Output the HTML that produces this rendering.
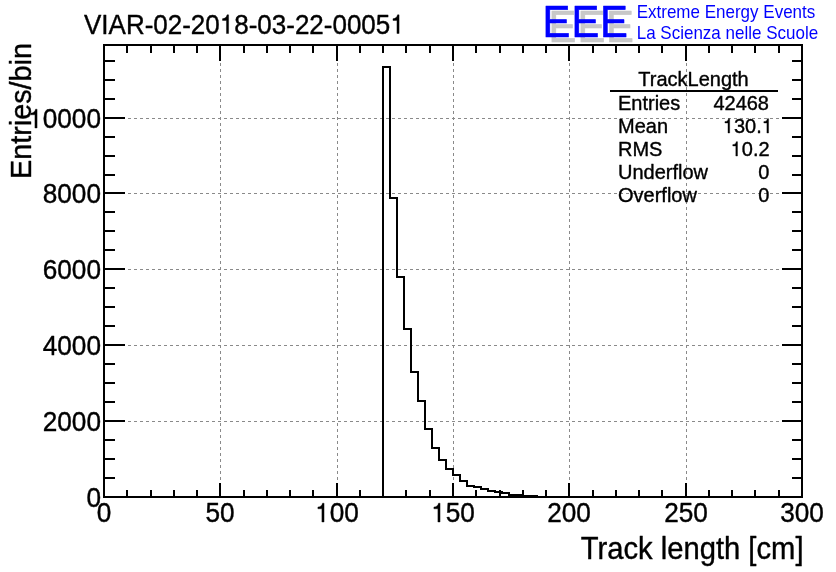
<!DOCTYPE html>
<html><head><meta charset="utf-8"><style>
html,body{margin:0;padding:0;background:#fff;width:836px;height:572px;overflow:hidden}
svg{display:block}
body{position:relative}
text{font-family:"Liberation Sans",sans-serif}
.tx text,.tx path{stroke-width:0.4px;stroke-linejoin:round}
</style></head><body>
<svg width="836" height="572" viewBox="0 0 836 572">
<rect width="836" height="572" fill="#fff"/>
<g shape-rendering="crispEdges">
<rect x="104" y="421" width="3" height="1" fill="#8a8a8a"/><rect x="110" y="421" width="3" height="1" fill="#8a8a8a"/><rect x="116" y="421" width="3" height="1" fill="#8a8a8a"/><rect x="122" y="421" width="3" height="1" fill="#8a8a8a"/><rect x="128" y="421" width="3" height="1" fill="#8a8a8a"/><rect x="134" y="421" width="3" height="1" fill="#8a8a8a"/><rect x="140" y="421" width="3" height="1" fill="#8a8a8a"/><rect x="146" y="421" width="3" height="1" fill="#8a8a8a"/><rect x="152" y="421" width="3" height="1" fill="#8a8a8a"/><rect x="158" y="421" width="3" height="1" fill="#8a8a8a"/><rect x="164" y="421" width="3" height="1" fill="#8a8a8a"/><rect x="170" y="421" width="3" height="1" fill="#8a8a8a"/><rect x="176" y="421" width="3" height="1" fill="#8a8a8a"/><rect x="182" y="421" width="3" height="1" fill="#8a8a8a"/><rect x="188" y="421" width="3" height="1" fill="#8a8a8a"/><rect x="194" y="421" width="3" height="1" fill="#8a8a8a"/><rect x="200" y="421" width="3" height="1" fill="#8a8a8a"/><rect x="206" y="421" width="3" height="1" fill="#8a8a8a"/><rect x="212" y="421" width="3" height="1" fill="#8a8a8a"/><rect x="218" y="421" width="3" height="1" fill="#8a8a8a"/><rect x="224" y="421" width="3" height="1" fill="#8a8a8a"/><rect x="230" y="421" width="3" height="1" fill="#8a8a8a"/><rect x="236" y="421" width="3" height="1" fill="#8a8a8a"/><rect x="242" y="421" width="3" height="1" fill="#8a8a8a"/><rect x="248" y="421" width="3" height="1" fill="#8a8a8a"/><rect x="254" y="421" width="3" height="1" fill="#8a8a8a"/><rect x="260" y="421" width="3" height="1" fill="#8a8a8a"/><rect x="266" y="421" width="3" height="1" fill="#8a8a8a"/><rect x="272" y="421" width="3" height="1" fill="#8a8a8a"/><rect x="278" y="421" width="3" height="1" fill="#8a8a8a"/><rect x="284" y="421" width="3" height="1" fill="#8a8a8a"/><rect x="290" y="421" width="3" height="1" fill="#8a8a8a"/><rect x="296" y="421" width="3" height="1" fill="#8a8a8a"/><rect x="302" y="421" width="3" height="1" fill="#8a8a8a"/><rect x="308" y="421" width="3" height="1" fill="#8a8a8a"/><rect x="314" y="421" width="3" height="1" fill="#8a8a8a"/><rect x="320" y="421" width="3" height="1" fill="#8a8a8a"/><rect x="326" y="421" width="3" height="1" fill="#8a8a8a"/><rect x="332" y="421" width="3" height="1" fill="#8a8a8a"/><rect x="338" y="421" width="3" height="1" fill="#8a8a8a"/><rect x="344" y="421" width="3" height="1" fill="#8a8a8a"/><rect x="350" y="421" width="3" height="1" fill="#8a8a8a"/><rect x="356" y="421" width="3" height="1" fill="#8a8a8a"/><rect x="362" y="421" width="3" height="1" fill="#8a8a8a"/><rect x="368" y="421" width="3" height="1" fill="#8a8a8a"/><rect x="374" y="421" width="3" height="1" fill="#8a8a8a"/><rect x="380" y="421" width="3" height="1" fill="#8a8a8a"/><rect x="386" y="421" width="3" height="1" fill="#8a8a8a"/><rect x="392" y="421" width="3" height="1" fill="#8a8a8a"/><rect x="398" y="421" width="3" height="1" fill="#8a8a8a"/><rect x="404" y="421" width="3" height="1" fill="#8a8a8a"/><rect x="410" y="421" width="3" height="1" fill="#8a8a8a"/><rect x="416" y="421" width="3" height="1" fill="#8a8a8a"/><rect x="422" y="421" width="3" height="1" fill="#8a8a8a"/><rect x="428" y="421" width="3" height="1" fill="#8a8a8a"/><rect x="434" y="421" width="3" height="1" fill="#8a8a8a"/><rect x="440" y="421" width="3" height="1" fill="#8a8a8a"/><rect x="446" y="421" width="3" height="1" fill="#8a8a8a"/><rect x="452" y="421" width="3" height="1" fill="#8a8a8a"/><rect x="458" y="421" width="3" height="1" fill="#8a8a8a"/><rect x="464" y="421" width="3" height="1" fill="#8a8a8a"/><rect x="470" y="421" width="3" height="1" fill="#8a8a8a"/><rect x="476" y="421" width="3" height="1" fill="#8a8a8a"/><rect x="482" y="421" width="3" height="1" fill="#8a8a8a"/><rect x="488" y="421" width="3" height="1" fill="#8a8a8a"/><rect x="494" y="421" width="3" height="1" fill="#8a8a8a"/><rect x="500" y="421" width="3" height="1" fill="#8a8a8a"/><rect x="506" y="421" width="3" height="1" fill="#8a8a8a"/><rect x="512" y="421" width="3" height="1" fill="#8a8a8a"/><rect x="518" y="421" width="3" height="1" fill="#8a8a8a"/><rect x="524" y="421" width="3" height="1" fill="#8a8a8a"/><rect x="530" y="421" width="3" height="1" fill="#8a8a8a"/><rect x="536" y="421" width="3" height="1" fill="#8a8a8a"/><rect x="542" y="421" width="3" height="1" fill="#8a8a8a"/><rect x="548" y="421" width="3" height="1" fill="#8a8a8a"/><rect x="554" y="421" width="3" height="1" fill="#8a8a8a"/><rect x="560" y="421" width="3" height="1" fill="#8a8a8a"/><rect x="566" y="421" width="3" height="1" fill="#8a8a8a"/><rect x="572" y="421" width="3" height="1" fill="#8a8a8a"/><rect x="578" y="421" width="3" height="1" fill="#8a8a8a"/><rect x="584" y="421" width="3" height="1" fill="#8a8a8a"/><rect x="590" y="421" width="3" height="1" fill="#8a8a8a"/><rect x="596" y="421" width="3" height="1" fill="#8a8a8a"/><rect x="602" y="421" width="3" height="1" fill="#8a8a8a"/><rect x="608" y="421" width="3" height="1" fill="#8a8a8a"/><rect x="614" y="421" width="3" height="1" fill="#8a8a8a"/><rect x="620" y="421" width="3" height="1" fill="#8a8a8a"/><rect x="626" y="421" width="3" height="1" fill="#8a8a8a"/><rect x="632" y="421" width="3" height="1" fill="#8a8a8a"/><rect x="638" y="421" width="3" height="1" fill="#8a8a8a"/><rect x="644" y="421" width="3" height="1" fill="#8a8a8a"/><rect x="650" y="421" width="3" height="1" fill="#8a8a8a"/><rect x="656" y="421" width="3" height="1" fill="#8a8a8a"/><rect x="662" y="421" width="3" height="1" fill="#8a8a8a"/><rect x="668" y="421" width="3" height="1" fill="#8a8a8a"/><rect x="674" y="421" width="3" height="1" fill="#8a8a8a"/><rect x="680" y="421" width="3" height="1" fill="#8a8a8a"/><rect x="686" y="421" width="3" height="1" fill="#8a8a8a"/><rect x="692" y="421" width="3" height="1" fill="#8a8a8a"/><rect x="698" y="421" width="3" height="1" fill="#8a8a8a"/><rect x="704" y="421" width="3" height="1" fill="#8a8a8a"/><rect x="710" y="421" width="3" height="1" fill="#8a8a8a"/><rect x="716" y="421" width="3" height="1" fill="#8a8a8a"/><rect x="722" y="421" width="3" height="1" fill="#8a8a8a"/><rect x="728" y="421" width="3" height="1" fill="#8a8a8a"/><rect x="734" y="421" width="3" height="1" fill="#8a8a8a"/><rect x="740" y="421" width="3" height="1" fill="#8a8a8a"/><rect x="746" y="421" width="3" height="1" fill="#8a8a8a"/><rect x="752" y="421" width="3" height="1" fill="#8a8a8a"/><rect x="758" y="421" width="3" height="1" fill="#8a8a8a"/><rect x="764" y="421" width="3" height="1" fill="#8a8a8a"/><rect x="770" y="421" width="3" height="1" fill="#8a8a8a"/><rect x="776" y="421" width="3" height="1" fill="#8a8a8a"/><rect x="782" y="421" width="3" height="1" fill="#8a8a8a"/><rect x="788" y="421" width="3" height="1" fill="#8a8a8a"/><rect x="794" y="421" width="3" height="1" fill="#8a8a8a"/><rect x="800" y="421" width="2" height="1" fill="#8a8a8a"/><rect x="104" y="345" width="3" height="1" fill="#8a8a8a"/><rect x="110" y="345" width="3" height="1" fill="#8a8a8a"/><rect x="116" y="345" width="3" height="1" fill="#8a8a8a"/><rect x="122" y="345" width="3" height="1" fill="#8a8a8a"/><rect x="128" y="345" width="3" height="1" fill="#8a8a8a"/><rect x="134" y="345" width="3" height="1" fill="#8a8a8a"/><rect x="140" y="345" width="3" height="1" fill="#8a8a8a"/><rect x="146" y="345" width="3" height="1" fill="#8a8a8a"/><rect x="152" y="345" width="3" height="1" fill="#8a8a8a"/><rect x="158" y="345" width="3" height="1" fill="#8a8a8a"/><rect x="164" y="345" width="3" height="1" fill="#8a8a8a"/><rect x="170" y="345" width="3" height="1" fill="#8a8a8a"/><rect x="176" y="345" width="3" height="1" fill="#8a8a8a"/><rect x="182" y="345" width="3" height="1" fill="#8a8a8a"/><rect x="188" y="345" width="3" height="1" fill="#8a8a8a"/><rect x="194" y="345" width="3" height="1" fill="#8a8a8a"/><rect x="200" y="345" width="3" height="1" fill="#8a8a8a"/><rect x="206" y="345" width="3" height="1" fill="#8a8a8a"/><rect x="212" y="345" width="3" height="1" fill="#8a8a8a"/><rect x="218" y="345" width="3" height="1" fill="#8a8a8a"/><rect x="224" y="345" width="3" height="1" fill="#8a8a8a"/><rect x="230" y="345" width="3" height="1" fill="#8a8a8a"/><rect x="236" y="345" width="3" height="1" fill="#8a8a8a"/><rect x="242" y="345" width="3" height="1" fill="#8a8a8a"/><rect x="248" y="345" width="3" height="1" fill="#8a8a8a"/><rect x="254" y="345" width="3" height="1" fill="#8a8a8a"/><rect x="260" y="345" width="3" height="1" fill="#8a8a8a"/><rect x="266" y="345" width="3" height="1" fill="#8a8a8a"/><rect x="272" y="345" width="3" height="1" fill="#8a8a8a"/><rect x="278" y="345" width="3" height="1" fill="#8a8a8a"/><rect x="284" y="345" width="3" height="1" fill="#8a8a8a"/><rect x="290" y="345" width="3" height="1" fill="#8a8a8a"/><rect x="296" y="345" width="3" height="1" fill="#8a8a8a"/><rect x="302" y="345" width="3" height="1" fill="#8a8a8a"/><rect x="308" y="345" width="3" height="1" fill="#8a8a8a"/><rect x="314" y="345" width="3" height="1" fill="#8a8a8a"/><rect x="320" y="345" width="3" height="1" fill="#8a8a8a"/><rect x="326" y="345" width="3" height="1" fill="#8a8a8a"/><rect x="332" y="345" width="3" height="1" fill="#8a8a8a"/><rect x="338" y="345" width="3" height="1" fill="#8a8a8a"/><rect x="344" y="345" width="3" height="1" fill="#8a8a8a"/><rect x="350" y="345" width="3" height="1" fill="#8a8a8a"/><rect x="356" y="345" width="3" height="1" fill="#8a8a8a"/><rect x="362" y="345" width="3" height="1" fill="#8a8a8a"/><rect x="368" y="345" width="3" height="1" fill="#8a8a8a"/><rect x="374" y="345" width="3" height="1" fill="#8a8a8a"/><rect x="380" y="345" width="3" height="1" fill="#8a8a8a"/><rect x="386" y="345" width="3" height="1" fill="#8a8a8a"/><rect x="392" y="345" width="3" height="1" fill="#8a8a8a"/><rect x="398" y="345" width="3" height="1" fill="#8a8a8a"/><rect x="404" y="345" width="3" height="1" fill="#8a8a8a"/><rect x="410" y="345" width="3" height="1" fill="#8a8a8a"/><rect x="416" y="345" width="3" height="1" fill="#8a8a8a"/><rect x="422" y="345" width="3" height="1" fill="#8a8a8a"/><rect x="428" y="345" width="3" height="1" fill="#8a8a8a"/><rect x="434" y="345" width="3" height="1" fill="#8a8a8a"/><rect x="440" y="345" width="3" height="1" fill="#8a8a8a"/><rect x="446" y="345" width="3" height="1" fill="#8a8a8a"/><rect x="452" y="345" width="3" height="1" fill="#8a8a8a"/><rect x="458" y="345" width="3" height="1" fill="#8a8a8a"/><rect x="464" y="345" width="3" height="1" fill="#8a8a8a"/><rect x="470" y="345" width="3" height="1" fill="#8a8a8a"/><rect x="476" y="345" width="3" height="1" fill="#8a8a8a"/><rect x="482" y="345" width="3" height="1" fill="#8a8a8a"/><rect x="488" y="345" width="3" height="1" fill="#8a8a8a"/><rect x="494" y="345" width="3" height="1" fill="#8a8a8a"/><rect x="500" y="345" width="3" height="1" fill="#8a8a8a"/><rect x="506" y="345" width="3" height="1" fill="#8a8a8a"/><rect x="512" y="345" width="3" height="1" fill="#8a8a8a"/><rect x="518" y="345" width="3" height="1" fill="#8a8a8a"/><rect x="524" y="345" width="3" height="1" fill="#8a8a8a"/><rect x="530" y="345" width="3" height="1" fill="#8a8a8a"/><rect x="536" y="345" width="3" height="1" fill="#8a8a8a"/><rect x="542" y="345" width="3" height="1" fill="#8a8a8a"/><rect x="548" y="345" width="3" height="1" fill="#8a8a8a"/><rect x="554" y="345" width="3" height="1" fill="#8a8a8a"/><rect x="560" y="345" width="3" height="1" fill="#8a8a8a"/><rect x="566" y="345" width="3" height="1" fill="#8a8a8a"/><rect x="572" y="345" width="3" height="1" fill="#8a8a8a"/><rect x="578" y="345" width="3" height="1" fill="#8a8a8a"/><rect x="584" y="345" width="3" height="1" fill="#8a8a8a"/><rect x="590" y="345" width="3" height="1" fill="#8a8a8a"/><rect x="596" y="345" width="3" height="1" fill="#8a8a8a"/><rect x="602" y="345" width="3" height="1" fill="#8a8a8a"/><rect x="608" y="345" width="3" height="1" fill="#8a8a8a"/><rect x="614" y="345" width="3" height="1" fill="#8a8a8a"/><rect x="620" y="345" width="3" height="1" fill="#8a8a8a"/><rect x="626" y="345" width="3" height="1" fill="#8a8a8a"/><rect x="632" y="345" width="3" height="1" fill="#8a8a8a"/><rect x="638" y="345" width="3" height="1" fill="#8a8a8a"/><rect x="644" y="345" width="3" height="1" fill="#8a8a8a"/><rect x="650" y="345" width="3" height="1" fill="#8a8a8a"/><rect x="656" y="345" width="3" height="1" fill="#8a8a8a"/><rect x="662" y="345" width="3" height="1" fill="#8a8a8a"/><rect x="668" y="345" width="3" height="1" fill="#8a8a8a"/><rect x="674" y="345" width="3" height="1" fill="#8a8a8a"/><rect x="680" y="345" width="3" height="1" fill="#8a8a8a"/><rect x="686" y="345" width="3" height="1" fill="#8a8a8a"/><rect x="692" y="345" width="3" height="1" fill="#8a8a8a"/><rect x="698" y="345" width="3" height="1" fill="#8a8a8a"/><rect x="704" y="345" width="3" height="1" fill="#8a8a8a"/><rect x="710" y="345" width="3" height="1" fill="#8a8a8a"/><rect x="716" y="345" width="3" height="1" fill="#8a8a8a"/><rect x="722" y="345" width="3" height="1" fill="#8a8a8a"/><rect x="728" y="345" width="3" height="1" fill="#8a8a8a"/><rect x="734" y="345" width="3" height="1" fill="#8a8a8a"/><rect x="740" y="345" width="3" height="1" fill="#8a8a8a"/><rect x="746" y="345" width="3" height="1" fill="#8a8a8a"/><rect x="752" y="345" width="3" height="1" fill="#8a8a8a"/><rect x="758" y="345" width="3" height="1" fill="#8a8a8a"/><rect x="764" y="345" width="3" height="1" fill="#8a8a8a"/><rect x="770" y="345" width="3" height="1" fill="#8a8a8a"/><rect x="776" y="345" width="3" height="1" fill="#8a8a8a"/><rect x="782" y="345" width="3" height="1" fill="#8a8a8a"/><rect x="788" y="345" width="3" height="1" fill="#8a8a8a"/><rect x="794" y="345" width="3" height="1" fill="#8a8a8a"/><rect x="800" y="345" width="2" height="1" fill="#8a8a8a"/><rect x="104" y="269" width="3" height="1" fill="#8a8a8a"/><rect x="110" y="269" width="3" height="1" fill="#8a8a8a"/><rect x="116" y="269" width="3" height="1" fill="#8a8a8a"/><rect x="122" y="269" width="3" height="1" fill="#8a8a8a"/><rect x="128" y="269" width="3" height="1" fill="#8a8a8a"/><rect x="134" y="269" width="3" height="1" fill="#8a8a8a"/><rect x="140" y="269" width="3" height="1" fill="#8a8a8a"/><rect x="146" y="269" width="3" height="1" fill="#8a8a8a"/><rect x="152" y="269" width="3" height="1" fill="#8a8a8a"/><rect x="158" y="269" width="3" height="1" fill="#8a8a8a"/><rect x="164" y="269" width="3" height="1" fill="#8a8a8a"/><rect x="170" y="269" width="3" height="1" fill="#8a8a8a"/><rect x="176" y="269" width="3" height="1" fill="#8a8a8a"/><rect x="182" y="269" width="3" height="1" fill="#8a8a8a"/><rect x="188" y="269" width="3" height="1" fill="#8a8a8a"/><rect x="194" y="269" width="3" height="1" fill="#8a8a8a"/><rect x="200" y="269" width="3" height="1" fill="#8a8a8a"/><rect x="206" y="269" width="3" height="1" fill="#8a8a8a"/><rect x="212" y="269" width="3" height="1" fill="#8a8a8a"/><rect x="218" y="269" width="3" height="1" fill="#8a8a8a"/><rect x="224" y="269" width="3" height="1" fill="#8a8a8a"/><rect x="230" y="269" width="3" height="1" fill="#8a8a8a"/><rect x="236" y="269" width="3" height="1" fill="#8a8a8a"/><rect x="242" y="269" width="3" height="1" fill="#8a8a8a"/><rect x="248" y="269" width="3" height="1" fill="#8a8a8a"/><rect x="254" y="269" width="3" height="1" fill="#8a8a8a"/><rect x="260" y="269" width="3" height="1" fill="#8a8a8a"/><rect x="266" y="269" width="3" height="1" fill="#8a8a8a"/><rect x="272" y="269" width="3" height="1" fill="#8a8a8a"/><rect x="278" y="269" width="3" height="1" fill="#8a8a8a"/><rect x="284" y="269" width="3" height="1" fill="#8a8a8a"/><rect x="290" y="269" width="3" height="1" fill="#8a8a8a"/><rect x="296" y="269" width="3" height="1" fill="#8a8a8a"/><rect x="302" y="269" width="3" height="1" fill="#8a8a8a"/><rect x="308" y="269" width="3" height="1" fill="#8a8a8a"/><rect x="314" y="269" width="3" height="1" fill="#8a8a8a"/><rect x="320" y="269" width="3" height="1" fill="#8a8a8a"/><rect x="326" y="269" width="3" height="1" fill="#8a8a8a"/><rect x="332" y="269" width="3" height="1" fill="#8a8a8a"/><rect x="338" y="269" width="3" height="1" fill="#8a8a8a"/><rect x="344" y="269" width="3" height="1" fill="#8a8a8a"/><rect x="350" y="269" width="3" height="1" fill="#8a8a8a"/><rect x="356" y="269" width="3" height="1" fill="#8a8a8a"/><rect x="362" y="269" width="3" height="1" fill="#8a8a8a"/><rect x="368" y="269" width="3" height="1" fill="#8a8a8a"/><rect x="374" y="269" width="3" height="1" fill="#8a8a8a"/><rect x="380" y="269" width="3" height="1" fill="#8a8a8a"/><rect x="386" y="269" width="3" height="1" fill="#8a8a8a"/><rect x="392" y="269" width="3" height="1" fill="#8a8a8a"/><rect x="398" y="269" width="3" height="1" fill="#8a8a8a"/><rect x="404" y="269" width="3" height="1" fill="#8a8a8a"/><rect x="410" y="269" width="3" height="1" fill="#8a8a8a"/><rect x="416" y="269" width="3" height="1" fill="#8a8a8a"/><rect x="422" y="269" width="3" height="1" fill="#8a8a8a"/><rect x="428" y="269" width="3" height="1" fill="#8a8a8a"/><rect x="434" y="269" width="3" height="1" fill="#8a8a8a"/><rect x="440" y="269" width="3" height="1" fill="#8a8a8a"/><rect x="446" y="269" width="3" height="1" fill="#8a8a8a"/><rect x="452" y="269" width="3" height="1" fill="#8a8a8a"/><rect x="458" y="269" width="3" height="1" fill="#8a8a8a"/><rect x="464" y="269" width="3" height="1" fill="#8a8a8a"/><rect x="470" y="269" width="3" height="1" fill="#8a8a8a"/><rect x="476" y="269" width="3" height="1" fill="#8a8a8a"/><rect x="482" y="269" width="3" height="1" fill="#8a8a8a"/><rect x="488" y="269" width="3" height="1" fill="#8a8a8a"/><rect x="494" y="269" width="3" height="1" fill="#8a8a8a"/><rect x="500" y="269" width="3" height="1" fill="#8a8a8a"/><rect x="506" y="269" width="3" height="1" fill="#8a8a8a"/><rect x="512" y="269" width="3" height="1" fill="#8a8a8a"/><rect x="518" y="269" width="3" height="1" fill="#8a8a8a"/><rect x="524" y="269" width="3" height="1" fill="#8a8a8a"/><rect x="530" y="269" width="3" height="1" fill="#8a8a8a"/><rect x="536" y="269" width="3" height="1" fill="#8a8a8a"/><rect x="542" y="269" width="3" height="1" fill="#8a8a8a"/><rect x="548" y="269" width="3" height="1" fill="#8a8a8a"/><rect x="554" y="269" width="3" height="1" fill="#8a8a8a"/><rect x="560" y="269" width="3" height="1" fill="#8a8a8a"/><rect x="566" y="269" width="3" height="1" fill="#8a8a8a"/><rect x="572" y="269" width="3" height="1" fill="#8a8a8a"/><rect x="578" y="269" width="3" height="1" fill="#8a8a8a"/><rect x="584" y="269" width="3" height="1" fill="#8a8a8a"/><rect x="590" y="269" width="3" height="1" fill="#8a8a8a"/><rect x="596" y="269" width="3" height="1" fill="#8a8a8a"/><rect x="602" y="269" width="3" height="1" fill="#8a8a8a"/><rect x="608" y="269" width="3" height="1" fill="#8a8a8a"/><rect x="614" y="269" width="3" height="1" fill="#8a8a8a"/><rect x="620" y="269" width="3" height="1" fill="#8a8a8a"/><rect x="626" y="269" width="3" height="1" fill="#8a8a8a"/><rect x="632" y="269" width="3" height="1" fill="#8a8a8a"/><rect x="638" y="269" width="3" height="1" fill="#8a8a8a"/><rect x="644" y="269" width="3" height="1" fill="#8a8a8a"/><rect x="650" y="269" width="3" height="1" fill="#8a8a8a"/><rect x="656" y="269" width="3" height="1" fill="#8a8a8a"/><rect x="662" y="269" width="3" height="1" fill="#8a8a8a"/><rect x="668" y="269" width="3" height="1" fill="#8a8a8a"/><rect x="674" y="269" width="3" height="1" fill="#8a8a8a"/><rect x="680" y="269" width="3" height="1" fill="#8a8a8a"/><rect x="686" y="269" width="3" height="1" fill="#8a8a8a"/><rect x="692" y="269" width="3" height="1" fill="#8a8a8a"/><rect x="698" y="269" width="3" height="1" fill="#8a8a8a"/><rect x="704" y="269" width="3" height="1" fill="#8a8a8a"/><rect x="710" y="269" width="3" height="1" fill="#8a8a8a"/><rect x="716" y="269" width="3" height="1" fill="#8a8a8a"/><rect x="722" y="269" width="3" height="1" fill="#8a8a8a"/><rect x="728" y="269" width="3" height="1" fill="#8a8a8a"/><rect x="734" y="269" width="3" height="1" fill="#8a8a8a"/><rect x="740" y="269" width="3" height="1" fill="#8a8a8a"/><rect x="746" y="269" width="3" height="1" fill="#8a8a8a"/><rect x="752" y="269" width="3" height="1" fill="#8a8a8a"/><rect x="758" y="269" width="3" height="1" fill="#8a8a8a"/><rect x="764" y="269" width="3" height="1" fill="#8a8a8a"/><rect x="770" y="269" width="3" height="1" fill="#8a8a8a"/><rect x="776" y="269" width="3" height="1" fill="#8a8a8a"/><rect x="782" y="269" width="3" height="1" fill="#8a8a8a"/><rect x="788" y="269" width="3" height="1" fill="#8a8a8a"/><rect x="794" y="269" width="3" height="1" fill="#8a8a8a"/><rect x="800" y="269" width="2" height="1" fill="#8a8a8a"/><rect x="104" y="193" width="3" height="1" fill="#8a8a8a"/><rect x="110" y="193" width="3" height="1" fill="#8a8a8a"/><rect x="116" y="193" width="3" height="1" fill="#8a8a8a"/><rect x="122" y="193" width="3" height="1" fill="#8a8a8a"/><rect x="128" y="193" width="3" height="1" fill="#8a8a8a"/><rect x="134" y="193" width="3" height="1" fill="#8a8a8a"/><rect x="140" y="193" width="3" height="1" fill="#8a8a8a"/><rect x="146" y="193" width="3" height="1" fill="#8a8a8a"/><rect x="152" y="193" width="3" height="1" fill="#8a8a8a"/><rect x="158" y="193" width="3" height="1" fill="#8a8a8a"/><rect x="164" y="193" width="3" height="1" fill="#8a8a8a"/><rect x="170" y="193" width="3" height="1" fill="#8a8a8a"/><rect x="176" y="193" width="3" height="1" fill="#8a8a8a"/><rect x="182" y="193" width="3" height="1" fill="#8a8a8a"/><rect x="188" y="193" width="3" height="1" fill="#8a8a8a"/><rect x="194" y="193" width="3" height="1" fill="#8a8a8a"/><rect x="200" y="193" width="3" height="1" fill="#8a8a8a"/><rect x="206" y="193" width="3" height="1" fill="#8a8a8a"/><rect x="212" y="193" width="3" height="1" fill="#8a8a8a"/><rect x="218" y="193" width="3" height="1" fill="#8a8a8a"/><rect x="224" y="193" width="3" height="1" fill="#8a8a8a"/><rect x="230" y="193" width="3" height="1" fill="#8a8a8a"/><rect x="236" y="193" width="3" height="1" fill="#8a8a8a"/><rect x="242" y="193" width="3" height="1" fill="#8a8a8a"/><rect x="248" y="193" width="3" height="1" fill="#8a8a8a"/><rect x="254" y="193" width="3" height="1" fill="#8a8a8a"/><rect x="260" y="193" width="3" height="1" fill="#8a8a8a"/><rect x="266" y="193" width="3" height="1" fill="#8a8a8a"/><rect x="272" y="193" width="3" height="1" fill="#8a8a8a"/><rect x="278" y="193" width="3" height="1" fill="#8a8a8a"/><rect x="284" y="193" width="3" height="1" fill="#8a8a8a"/><rect x="290" y="193" width="3" height="1" fill="#8a8a8a"/><rect x="296" y="193" width="3" height="1" fill="#8a8a8a"/><rect x="302" y="193" width="3" height="1" fill="#8a8a8a"/><rect x="308" y="193" width="3" height="1" fill="#8a8a8a"/><rect x="314" y="193" width="3" height="1" fill="#8a8a8a"/><rect x="320" y="193" width="3" height="1" fill="#8a8a8a"/><rect x="326" y="193" width="3" height="1" fill="#8a8a8a"/><rect x="332" y="193" width="3" height="1" fill="#8a8a8a"/><rect x="338" y="193" width="3" height="1" fill="#8a8a8a"/><rect x="344" y="193" width="3" height="1" fill="#8a8a8a"/><rect x="350" y="193" width="3" height="1" fill="#8a8a8a"/><rect x="356" y="193" width="3" height="1" fill="#8a8a8a"/><rect x="362" y="193" width="3" height="1" fill="#8a8a8a"/><rect x="368" y="193" width="3" height="1" fill="#8a8a8a"/><rect x="374" y="193" width="3" height="1" fill="#8a8a8a"/><rect x="380" y="193" width="3" height="1" fill="#8a8a8a"/><rect x="386" y="193" width="3" height="1" fill="#8a8a8a"/><rect x="392" y="193" width="3" height="1" fill="#8a8a8a"/><rect x="398" y="193" width="3" height="1" fill="#8a8a8a"/><rect x="404" y="193" width="3" height="1" fill="#8a8a8a"/><rect x="410" y="193" width="3" height="1" fill="#8a8a8a"/><rect x="416" y="193" width="3" height="1" fill="#8a8a8a"/><rect x="422" y="193" width="3" height="1" fill="#8a8a8a"/><rect x="428" y="193" width="3" height="1" fill="#8a8a8a"/><rect x="434" y="193" width="3" height="1" fill="#8a8a8a"/><rect x="440" y="193" width="3" height="1" fill="#8a8a8a"/><rect x="446" y="193" width="3" height="1" fill="#8a8a8a"/><rect x="452" y="193" width="3" height="1" fill="#8a8a8a"/><rect x="458" y="193" width="3" height="1" fill="#8a8a8a"/><rect x="464" y="193" width="3" height="1" fill="#8a8a8a"/><rect x="470" y="193" width="3" height="1" fill="#8a8a8a"/><rect x="476" y="193" width="3" height="1" fill="#8a8a8a"/><rect x="482" y="193" width="3" height="1" fill="#8a8a8a"/><rect x="488" y="193" width="3" height="1" fill="#8a8a8a"/><rect x="494" y="193" width="3" height="1" fill="#8a8a8a"/><rect x="500" y="193" width="3" height="1" fill="#8a8a8a"/><rect x="506" y="193" width="3" height="1" fill="#8a8a8a"/><rect x="512" y="193" width="3" height="1" fill="#8a8a8a"/><rect x="518" y="193" width="3" height="1" fill="#8a8a8a"/><rect x="524" y="193" width="3" height="1" fill="#8a8a8a"/><rect x="530" y="193" width="3" height="1" fill="#8a8a8a"/><rect x="536" y="193" width="3" height="1" fill="#8a8a8a"/><rect x="542" y="193" width="3" height="1" fill="#8a8a8a"/><rect x="548" y="193" width="3" height="1" fill="#8a8a8a"/><rect x="554" y="193" width="3" height="1" fill="#8a8a8a"/><rect x="560" y="193" width="3" height="1" fill="#8a8a8a"/><rect x="566" y="193" width="3" height="1" fill="#8a8a8a"/><rect x="572" y="193" width="3" height="1" fill="#8a8a8a"/><rect x="578" y="193" width="3" height="1" fill="#8a8a8a"/><rect x="584" y="193" width="3" height="1" fill="#8a8a8a"/><rect x="590" y="193" width="3" height="1" fill="#8a8a8a"/><rect x="596" y="193" width="3" height="1" fill="#8a8a8a"/><rect x="602" y="193" width="3" height="1" fill="#8a8a8a"/><rect x="608" y="193" width="3" height="1" fill="#8a8a8a"/><rect x="614" y="193" width="3" height="1" fill="#8a8a8a"/><rect x="620" y="193" width="3" height="1" fill="#8a8a8a"/><rect x="626" y="193" width="3" height="1" fill="#8a8a8a"/><rect x="632" y="193" width="3" height="1" fill="#8a8a8a"/><rect x="638" y="193" width="3" height="1" fill="#8a8a8a"/><rect x="644" y="193" width="3" height="1" fill="#8a8a8a"/><rect x="650" y="193" width="3" height="1" fill="#8a8a8a"/><rect x="656" y="193" width="3" height="1" fill="#8a8a8a"/><rect x="662" y="193" width="3" height="1" fill="#8a8a8a"/><rect x="668" y="193" width="3" height="1" fill="#8a8a8a"/><rect x="674" y="193" width="3" height="1" fill="#8a8a8a"/><rect x="680" y="193" width="3" height="1" fill="#8a8a8a"/><rect x="686" y="193" width="3" height="1" fill="#8a8a8a"/><rect x="692" y="193" width="3" height="1" fill="#8a8a8a"/><rect x="698" y="193" width="3" height="1" fill="#8a8a8a"/><rect x="704" y="193" width="3" height="1" fill="#8a8a8a"/><rect x="710" y="193" width="3" height="1" fill="#8a8a8a"/><rect x="716" y="193" width="3" height="1" fill="#8a8a8a"/><rect x="722" y="193" width="3" height="1" fill="#8a8a8a"/><rect x="728" y="193" width="3" height="1" fill="#8a8a8a"/><rect x="734" y="193" width="3" height="1" fill="#8a8a8a"/><rect x="740" y="193" width="3" height="1" fill="#8a8a8a"/><rect x="746" y="193" width="3" height="1" fill="#8a8a8a"/><rect x="752" y="193" width="3" height="1" fill="#8a8a8a"/><rect x="758" y="193" width="3" height="1" fill="#8a8a8a"/><rect x="764" y="193" width="3" height="1" fill="#8a8a8a"/><rect x="770" y="193" width="3" height="1" fill="#8a8a8a"/><rect x="776" y="193" width="3" height="1" fill="#8a8a8a"/><rect x="782" y="193" width="3" height="1" fill="#8a8a8a"/><rect x="788" y="193" width="3" height="1" fill="#8a8a8a"/><rect x="794" y="193" width="3" height="1" fill="#8a8a8a"/><rect x="800" y="193" width="2" height="1" fill="#8a8a8a"/><rect x="104" y="118" width="3" height="1" fill="#8a8a8a"/><rect x="110" y="118" width="3" height="1" fill="#8a8a8a"/><rect x="116" y="118" width="3" height="1" fill="#8a8a8a"/><rect x="122" y="118" width="3" height="1" fill="#8a8a8a"/><rect x="128" y="118" width="3" height="1" fill="#8a8a8a"/><rect x="134" y="118" width="3" height="1" fill="#8a8a8a"/><rect x="140" y="118" width="3" height="1" fill="#8a8a8a"/><rect x="146" y="118" width="3" height="1" fill="#8a8a8a"/><rect x="152" y="118" width="3" height="1" fill="#8a8a8a"/><rect x="158" y="118" width="3" height="1" fill="#8a8a8a"/><rect x="164" y="118" width="3" height="1" fill="#8a8a8a"/><rect x="170" y="118" width="3" height="1" fill="#8a8a8a"/><rect x="176" y="118" width="3" height="1" fill="#8a8a8a"/><rect x="182" y="118" width="3" height="1" fill="#8a8a8a"/><rect x="188" y="118" width="3" height="1" fill="#8a8a8a"/><rect x="194" y="118" width="3" height="1" fill="#8a8a8a"/><rect x="200" y="118" width="3" height="1" fill="#8a8a8a"/><rect x="206" y="118" width="3" height="1" fill="#8a8a8a"/><rect x="212" y="118" width="3" height="1" fill="#8a8a8a"/><rect x="218" y="118" width="3" height="1" fill="#8a8a8a"/><rect x="224" y="118" width="3" height="1" fill="#8a8a8a"/><rect x="230" y="118" width="3" height="1" fill="#8a8a8a"/><rect x="236" y="118" width="3" height="1" fill="#8a8a8a"/><rect x="242" y="118" width="3" height="1" fill="#8a8a8a"/><rect x="248" y="118" width="3" height="1" fill="#8a8a8a"/><rect x="254" y="118" width="3" height="1" fill="#8a8a8a"/><rect x="260" y="118" width="3" height="1" fill="#8a8a8a"/><rect x="266" y="118" width="3" height="1" fill="#8a8a8a"/><rect x="272" y="118" width="3" height="1" fill="#8a8a8a"/><rect x="278" y="118" width="3" height="1" fill="#8a8a8a"/><rect x="284" y="118" width="3" height="1" fill="#8a8a8a"/><rect x="290" y="118" width="3" height="1" fill="#8a8a8a"/><rect x="296" y="118" width="3" height="1" fill="#8a8a8a"/><rect x="302" y="118" width="3" height="1" fill="#8a8a8a"/><rect x="308" y="118" width="3" height="1" fill="#8a8a8a"/><rect x="314" y="118" width="3" height="1" fill="#8a8a8a"/><rect x="320" y="118" width="3" height="1" fill="#8a8a8a"/><rect x="326" y="118" width="3" height="1" fill="#8a8a8a"/><rect x="332" y="118" width="3" height="1" fill="#8a8a8a"/><rect x="338" y="118" width="3" height="1" fill="#8a8a8a"/><rect x="344" y="118" width="3" height="1" fill="#8a8a8a"/><rect x="350" y="118" width="3" height="1" fill="#8a8a8a"/><rect x="356" y="118" width="3" height="1" fill="#8a8a8a"/><rect x="362" y="118" width="3" height="1" fill="#8a8a8a"/><rect x="368" y="118" width="3" height="1" fill="#8a8a8a"/><rect x="374" y="118" width="3" height="1" fill="#8a8a8a"/><rect x="380" y="118" width="3" height="1" fill="#8a8a8a"/><rect x="386" y="118" width="3" height="1" fill="#8a8a8a"/><rect x="392" y="118" width="3" height="1" fill="#8a8a8a"/><rect x="398" y="118" width="3" height="1" fill="#8a8a8a"/><rect x="404" y="118" width="3" height="1" fill="#8a8a8a"/><rect x="410" y="118" width="3" height="1" fill="#8a8a8a"/><rect x="416" y="118" width="3" height="1" fill="#8a8a8a"/><rect x="422" y="118" width="3" height="1" fill="#8a8a8a"/><rect x="428" y="118" width="3" height="1" fill="#8a8a8a"/><rect x="434" y="118" width="3" height="1" fill="#8a8a8a"/><rect x="440" y="118" width="3" height="1" fill="#8a8a8a"/><rect x="446" y="118" width="3" height="1" fill="#8a8a8a"/><rect x="452" y="118" width="3" height="1" fill="#8a8a8a"/><rect x="458" y="118" width="3" height="1" fill="#8a8a8a"/><rect x="464" y="118" width="3" height="1" fill="#8a8a8a"/><rect x="470" y="118" width="3" height="1" fill="#8a8a8a"/><rect x="476" y="118" width="3" height="1" fill="#8a8a8a"/><rect x="482" y="118" width="3" height="1" fill="#8a8a8a"/><rect x="488" y="118" width="3" height="1" fill="#8a8a8a"/><rect x="494" y="118" width="3" height="1" fill="#8a8a8a"/><rect x="500" y="118" width="3" height="1" fill="#8a8a8a"/><rect x="506" y="118" width="3" height="1" fill="#8a8a8a"/><rect x="512" y="118" width="3" height="1" fill="#8a8a8a"/><rect x="518" y="118" width="3" height="1" fill="#8a8a8a"/><rect x="524" y="118" width="3" height="1" fill="#8a8a8a"/><rect x="530" y="118" width="3" height="1" fill="#8a8a8a"/><rect x="536" y="118" width="3" height="1" fill="#8a8a8a"/><rect x="542" y="118" width="3" height="1" fill="#8a8a8a"/><rect x="548" y="118" width="3" height="1" fill="#8a8a8a"/><rect x="554" y="118" width="3" height="1" fill="#8a8a8a"/><rect x="560" y="118" width="3" height="1" fill="#8a8a8a"/><rect x="566" y="118" width="3" height="1" fill="#8a8a8a"/><rect x="572" y="118" width="3" height="1" fill="#8a8a8a"/><rect x="578" y="118" width="3" height="1" fill="#8a8a8a"/><rect x="584" y="118" width="3" height="1" fill="#8a8a8a"/><rect x="590" y="118" width="3" height="1" fill="#8a8a8a"/><rect x="596" y="118" width="3" height="1" fill="#8a8a8a"/><rect x="602" y="118" width="3" height="1" fill="#8a8a8a"/><rect x="608" y="118" width="3" height="1" fill="#8a8a8a"/><rect x="614" y="118" width="3" height="1" fill="#8a8a8a"/><rect x="620" y="118" width="3" height="1" fill="#8a8a8a"/><rect x="626" y="118" width="3" height="1" fill="#8a8a8a"/><rect x="632" y="118" width="3" height="1" fill="#8a8a8a"/><rect x="638" y="118" width="3" height="1" fill="#8a8a8a"/><rect x="644" y="118" width="3" height="1" fill="#8a8a8a"/><rect x="650" y="118" width="3" height="1" fill="#8a8a8a"/><rect x="656" y="118" width="3" height="1" fill="#8a8a8a"/><rect x="662" y="118" width="3" height="1" fill="#8a8a8a"/><rect x="668" y="118" width="3" height="1" fill="#8a8a8a"/><rect x="674" y="118" width="3" height="1" fill="#8a8a8a"/><rect x="680" y="118" width="3" height="1" fill="#8a8a8a"/><rect x="686" y="118" width="3" height="1" fill="#8a8a8a"/><rect x="692" y="118" width="3" height="1" fill="#8a8a8a"/><rect x="698" y="118" width="3" height="1" fill="#8a8a8a"/><rect x="704" y="118" width="3" height="1" fill="#8a8a8a"/><rect x="710" y="118" width="3" height="1" fill="#8a8a8a"/><rect x="716" y="118" width="3" height="1" fill="#8a8a8a"/><rect x="722" y="118" width="3" height="1" fill="#8a8a8a"/><rect x="728" y="118" width="3" height="1" fill="#8a8a8a"/><rect x="734" y="118" width="3" height="1" fill="#8a8a8a"/><rect x="740" y="118" width="3" height="1" fill="#8a8a8a"/><rect x="746" y="118" width="3" height="1" fill="#8a8a8a"/><rect x="752" y="118" width="3" height="1" fill="#8a8a8a"/><rect x="758" y="118" width="3" height="1" fill="#8a8a8a"/><rect x="764" y="118" width="3" height="1" fill="#8a8a8a"/><rect x="770" y="118" width="3" height="1" fill="#8a8a8a"/><rect x="776" y="118" width="3" height="1" fill="#8a8a8a"/><rect x="782" y="118" width="3" height="1" fill="#8a8a8a"/><rect x="788" y="118" width="3" height="1" fill="#8a8a8a"/><rect x="794" y="118" width="3" height="1" fill="#8a8a8a"/><rect x="800" y="118" width="2" height="1" fill="#8a8a8a"/><rect x="220" y="495" width="1" height="3" fill="#8a8a8a"/><rect x="220" y="489" width="1" height="3" fill="#8a8a8a"/><rect x="220" y="483" width="1" height="3" fill="#8a8a8a"/><rect x="220" y="477" width="1" height="3" fill="#8a8a8a"/><rect x="220" y="471" width="1" height="3" fill="#8a8a8a"/><rect x="220" y="465" width="1" height="3" fill="#8a8a8a"/><rect x="220" y="459" width="1" height="3" fill="#8a8a8a"/><rect x="220" y="453" width="1" height="3" fill="#8a8a8a"/><rect x="220" y="447" width="1" height="3" fill="#8a8a8a"/><rect x="220" y="441" width="1" height="3" fill="#8a8a8a"/><rect x="220" y="435" width="1" height="3" fill="#8a8a8a"/><rect x="220" y="429" width="1" height="3" fill="#8a8a8a"/><rect x="220" y="423" width="1" height="3" fill="#8a8a8a"/><rect x="220" y="417" width="1" height="3" fill="#8a8a8a"/><rect x="220" y="411" width="1" height="3" fill="#8a8a8a"/><rect x="220" y="405" width="1" height="3" fill="#8a8a8a"/><rect x="220" y="399" width="1" height="3" fill="#8a8a8a"/><rect x="220" y="393" width="1" height="3" fill="#8a8a8a"/><rect x="220" y="387" width="1" height="3" fill="#8a8a8a"/><rect x="220" y="381" width="1" height="3" fill="#8a8a8a"/><rect x="220" y="375" width="1" height="3" fill="#8a8a8a"/><rect x="220" y="369" width="1" height="3" fill="#8a8a8a"/><rect x="220" y="363" width="1" height="3" fill="#8a8a8a"/><rect x="220" y="357" width="1" height="3" fill="#8a8a8a"/><rect x="220" y="351" width="1" height="3" fill="#8a8a8a"/><rect x="220" y="345" width="1" height="3" fill="#8a8a8a"/><rect x="220" y="339" width="1" height="3" fill="#8a8a8a"/><rect x="220" y="333" width="1" height="3" fill="#8a8a8a"/><rect x="220" y="327" width="1" height="3" fill="#8a8a8a"/><rect x="220" y="321" width="1" height="3" fill="#8a8a8a"/><rect x="220" y="315" width="1" height="3" fill="#8a8a8a"/><rect x="220" y="309" width="1" height="3" fill="#8a8a8a"/><rect x="220" y="303" width="1" height="3" fill="#8a8a8a"/><rect x="220" y="297" width="1" height="3" fill="#8a8a8a"/><rect x="220" y="291" width="1" height="3" fill="#8a8a8a"/><rect x="220" y="285" width="1" height="3" fill="#8a8a8a"/><rect x="220" y="279" width="1" height="3" fill="#8a8a8a"/><rect x="220" y="273" width="1" height="3" fill="#8a8a8a"/><rect x="220" y="267" width="1" height="3" fill="#8a8a8a"/><rect x="220" y="261" width="1" height="3" fill="#8a8a8a"/><rect x="220" y="255" width="1" height="3" fill="#8a8a8a"/><rect x="220" y="249" width="1" height="3" fill="#8a8a8a"/><rect x="220" y="243" width="1" height="3" fill="#8a8a8a"/><rect x="220" y="237" width="1" height="3" fill="#8a8a8a"/><rect x="220" y="231" width="1" height="3" fill="#8a8a8a"/><rect x="220" y="225" width="1" height="3" fill="#8a8a8a"/><rect x="220" y="219" width="1" height="3" fill="#8a8a8a"/><rect x="220" y="213" width="1" height="3" fill="#8a8a8a"/><rect x="220" y="207" width="1" height="3" fill="#8a8a8a"/><rect x="220" y="201" width="1" height="3" fill="#8a8a8a"/><rect x="220" y="195" width="1" height="3" fill="#8a8a8a"/><rect x="220" y="189" width="1" height="3" fill="#8a8a8a"/><rect x="220" y="183" width="1" height="3" fill="#8a8a8a"/><rect x="220" y="177" width="1" height="3" fill="#8a8a8a"/><rect x="220" y="171" width="1" height="3" fill="#8a8a8a"/><rect x="220" y="165" width="1" height="3" fill="#8a8a8a"/><rect x="220" y="159" width="1" height="3" fill="#8a8a8a"/><rect x="220" y="153" width="1" height="3" fill="#8a8a8a"/><rect x="220" y="147" width="1" height="3" fill="#8a8a8a"/><rect x="220" y="141" width="1" height="3" fill="#8a8a8a"/><rect x="220" y="135" width="1" height="3" fill="#8a8a8a"/><rect x="220" y="129" width="1" height="3" fill="#8a8a8a"/><rect x="220" y="123" width="1" height="3" fill="#8a8a8a"/><rect x="220" y="117" width="1" height="3" fill="#8a8a8a"/><rect x="220" y="111" width="1" height="3" fill="#8a8a8a"/><rect x="220" y="105" width="1" height="3" fill="#8a8a8a"/><rect x="220" y="99" width="1" height="3" fill="#8a8a8a"/><rect x="220" y="93" width="1" height="3" fill="#8a8a8a"/><rect x="220" y="87" width="1" height="3" fill="#8a8a8a"/><rect x="220" y="81" width="1" height="3" fill="#8a8a8a"/><rect x="220" y="75" width="1" height="3" fill="#8a8a8a"/><rect x="220" y="69" width="1" height="3" fill="#8a8a8a"/><rect x="220" y="63" width="1" height="3" fill="#8a8a8a"/><rect x="220" y="57" width="1" height="3" fill="#8a8a8a"/><rect x="220" y="51" width="1" height="3" fill="#8a8a8a"/><rect x="220" y="46" width="1" height="2" fill="#8a8a8a"/><rect x="337" y="495" width="1" height="3" fill="#8a8a8a"/><rect x="337" y="489" width="1" height="3" fill="#8a8a8a"/><rect x="337" y="483" width="1" height="3" fill="#8a8a8a"/><rect x="337" y="477" width="1" height="3" fill="#8a8a8a"/><rect x="337" y="471" width="1" height="3" fill="#8a8a8a"/><rect x="337" y="465" width="1" height="3" fill="#8a8a8a"/><rect x="337" y="459" width="1" height="3" fill="#8a8a8a"/><rect x="337" y="453" width="1" height="3" fill="#8a8a8a"/><rect x="337" y="447" width="1" height="3" fill="#8a8a8a"/><rect x="337" y="441" width="1" height="3" fill="#8a8a8a"/><rect x="337" y="435" width="1" height="3" fill="#8a8a8a"/><rect x="337" y="429" width="1" height="3" fill="#8a8a8a"/><rect x="337" y="423" width="1" height="3" fill="#8a8a8a"/><rect x="337" y="417" width="1" height="3" fill="#8a8a8a"/><rect x="337" y="411" width="1" height="3" fill="#8a8a8a"/><rect x="337" y="405" width="1" height="3" fill="#8a8a8a"/><rect x="337" y="399" width="1" height="3" fill="#8a8a8a"/><rect x="337" y="393" width="1" height="3" fill="#8a8a8a"/><rect x="337" y="387" width="1" height="3" fill="#8a8a8a"/><rect x="337" y="381" width="1" height="3" fill="#8a8a8a"/><rect x="337" y="375" width="1" height="3" fill="#8a8a8a"/><rect x="337" y="369" width="1" height="3" fill="#8a8a8a"/><rect x="337" y="363" width="1" height="3" fill="#8a8a8a"/><rect x="337" y="357" width="1" height="3" fill="#8a8a8a"/><rect x="337" y="351" width="1" height="3" fill="#8a8a8a"/><rect x="337" y="345" width="1" height="3" fill="#8a8a8a"/><rect x="337" y="339" width="1" height="3" fill="#8a8a8a"/><rect x="337" y="333" width="1" height="3" fill="#8a8a8a"/><rect x="337" y="327" width="1" height="3" fill="#8a8a8a"/><rect x="337" y="321" width="1" height="3" fill="#8a8a8a"/><rect x="337" y="315" width="1" height="3" fill="#8a8a8a"/><rect x="337" y="309" width="1" height="3" fill="#8a8a8a"/><rect x="337" y="303" width="1" height="3" fill="#8a8a8a"/><rect x="337" y="297" width="1" height="3" fill="#8a8a8a"/><rect x="337" y="291" width="1" height="3" fill="#8a8a8a"/><rect x="337" y="285" width="1" height="3" fill="#8a8a8a"/><rect x="337" y="279" width="1" height="3" fill="#8a8a8a"/><rect x="337" y="273" width="1" height="3" fill="#8a8a8a"/><rect x="337" y="267" width="1" height="3" fill="#8a8a8a"/><rect x="337" y="261" width="1" height="3" fill="#8a8a8a"/><rect x="337" y="255" width="1" height="3" fill="#8a8a8a"/><rect x="337" y="249" width="1" height="3" fill="#8a8a8a"/><rect x="337" y="243" width="1" height="3" fill="#8a8a8a"/><rect x="337" y="237" width="1" height="3" fill="#8a8a8a"/><rect x="337" y="231" width="1" height="3" fill="#8a8a8a"/><rect x="337" y="225" width="1" height="3" fill="#8a8a8a"/><rect x="337" y="219" width="1" height="3" fill="#8a8a8a"/><rect x="337" y="213" width="1" height="3" fill="#8a8a8a"/><rect x="337" y="207" width="1" height="3" fill="#8a8a8a"/><rect x="337" y="201" width="1" height="3" fill="#8a8a8a"/><rect x="337" y="195" width="1" height="3" fill="#8a8a8a"/><rect x="337" y="189" width="1" height="3" fill="#8a8a8a"/><rect x="337" y="183" width="1" height="3" fill="#8a8a8a"/><rect x="337" y="177" width="1" height="3" fill="#8a8a8a"/><rect x="337" y="171" width="1" height="3" fill="#8a8a8a"/><rect x="337" y="165" width="1" height="3" fill="#8a8a8a"/><rect x="337" y="159" width="1" height="3" fill="#8a8a8a"/><rect x="337" y="153" width="1" height="3" fill="#8a8a8a"/><rect x="337" y="147" width="1" height="3" fill="#8a8a8a"/><rect x="337" y="141" width="1" height="3" fill="#8a8a8a"/><rect x="337" y="135" width="1" height="3" fill="#8a8a8a"/><rect x="337" y="129" width="1" height="3" fill="#8a8a8a"/><rect x="337" y="123" width="1" height="3" fill="#8a8a8a"/><rect x="337" y="117" width="1" height="3" fill="#8a8a8a"/><rect x="337" y="111" width="1" height="3" fill="#8a8a8a"/><rect x="337" y="105" width="1" height="3" fill="#8a8a8a"/><rect x="337" y="99" width="1" height="3" fill="#8a8a8a"/><rect x="337" y="93" width="1" height="3" fill="#8a8a8a"/><rect x="337" y="87" width="1" height="3" fill="#8a8a8a"/><rect x="337" y="81" width="1" height="3" fill="#8a8a8a"/><rect x="337" y="75" width="1" height="3" fill="#8a8a8a"/><rect x="337" y="69" width="1" height="3" fill="#8a8a8a"/><rect x="337" y="63" width="1" height="3" fill="#8a8a8a"/><rect x="337" y="57" width="1" height="3" fill="#8a8a8a"/><rect x="337" y="51" width="1" height="3" fill="#8a8a8a"/><rect x="337" y="46" width="1" height="2" fill="#8a8a8a"/><rect x="453" y="495" width="1" height="3" fill="#8a8a8a"/><rect x="453" y="489" width="1" height="3" fill="#8a8a8a"/><rect x="453" y="483" width="1" height="3" fill="#8a8a8a"/><rect x="453" y="477" width="1" height="3" fill="#8a8a8a"/><rect x="453" y="471" width="1" height="3" fill="#8a8a8a"/><rect x="453" y="465" width="1" height="3" fill="#8a8a8a"/><rect x="453" y="459" width="1" height="3" fill="#8a8a8a"/><rect x="453" y="453" width="1" height="3" fill="#8a8a8a"/><rect x="453" y="447" width="1" height="3" fill="#8a8a8a"/><rect x="453" y="441" width="1" height="3" fill="#8a8a8a"/><rect x="453" y="435" width="1" height="3" fill="#8a8a8a"/><rect x="453" y="429" width="1" height="3" fill="#8a8a8a"/><rect x="453" y="423" width="1" height="3" fill="#8a8a8a"/><rect x="453" y="417" width="1" height="3" fill="#8a8a8a"/><rect x="453" y="411" width="1" height="3" fill="#8a8a8a"/><rect x="453" y="405" width="1" height="3" fill="#8a8a8a"/><rect x="453" y="399" width="1" height="3" fill="#8a8a8a"/><rect x="453" y="393" width="1" height="3" fill="#8a8a8a"/><rect x="453" y="387" width="1" height="3" fill="#8a8a8a"/><rect x="453" y="381" width="1" height="3" fill="#8a8a8a"/><rect x="453" y="375" width="1" height="3" fill="#8a8a8a"/><rect x="453" y="369" width="1" height="3" fill="#8a8a8a"/><rect x="453" y="363" width="1" height="3" fill="#8a8a8a"/><rect x="453" y="357" width="1" height="3" fill="#8a8a8a"/><rect x="453" y="351" width="1" height="3" fill="#8a8a8a"/><rect x="453" y="345" width="1" height="3" fill="#8a8a8a"/><rect x="453" y="339" width="1" height="3" fill="#8a8a8a"/><rect x="453" y="333" width="1" height="3" fill="#8a8a8a"/><rect x="453" y="327" width="1" height="3" fill="#8a8a8a"/><rect x="453" y="321" width="1" height="3" fill="#8a8a8a"/><rect x="453" y="315" width="1" height="3" fill="#8a8a8a"/><rect x="453" y="309" width="1" height="3" fill="#8a8a8a"/><rect x="453" y="303" width="1" height="3" fill="#8a8a8a"/><rect x="453" y="297" width="1" height="3" fill="#8a8a8a"/><rect x="453" y="291" width="1" height="3" fill="#8a8a8a"/><rect x="453" y="285" width="1" height="3" fill="#8a8a8a"/><rect x="453" y="279" width="1" height="3" fill="#8a8a8a"/><rect x="453" y="273" width="1" height="3" fill="#8a8a8a"/><rect x="453" y="267" width="1" height="3" fill="#8a8a8a"/><rect x="453" y="261" width="1" height="3" fill="#8a8a8a"/><rect x="453" y="255" width="1" height="3" fill="#8a8a8a"/><rect x="453" y="249" width="1" height="3" fill="#8a8a8a"/><rect x="453" y="243" width="1" height="3" fill="#8a8a8a"/><rect x="453" y="237" width="1" height="3" fill="#8a8a8a"/><rect x="453" y="231" width="1" height="3" fill="#8a8a8a"/><rect x="453" y="225" width="1" height="3" fill="#8a8a8a"/><rect x="453" y="219" width="1" height="3" fill="#8a8a8a"/><rect x="453" y="213" width="1" height="3" fill="#8a8a8a"/><rect x="453" y="207" width="1" height="3" fill="#8a8a8a"/><rect x="453" y="201" width="1" height="3" fill="#8a8a8a"/><rect x="453" y="195" width="1" height="3" fill="#8a8a8a"/><rect x="453" y="189" width="1" height="3" fill="#8a8a8a"/><rect x="453" y="183" width="1" height="3" fill="#8a8a8a"/><rect x="453" y="177" width="1" height="3" fill="#8a8a8a"/><rect x="453" y="171" width="1" height="3" fill="#8a8a8a"/><rect x="453" y="165" width="1" height="3" fill="#8a8a8a"/><rect x="453" y="159" width="1" height="3" fill="#8a8a8a"/><rect x="453" y="153" width="1" height="3" fill="#8a8a8a"/><rect x="453" y="147" width="1" height="3" fill="#8a8a8a"/><rect x="453" y="141" width="1" height="3" fill="#8a8a8a"/><rect x="453" y="135" width="1" height="3" fill="#8a8a8a"/><rect x="453" y="129" width="1" height="3" fill="#8a8a8a"/><rect x="453" y="123" width="1" height="3" fill="#8a8a8a"/><rect x="453" y="117" width="1" height="3" fill="#8a8a8a"/><rect x="453" y="111" width="1" height="3" fill="#8a8a8a"/><rect x="453" y="105" width="1" height="3" fill="#8a8a8a"/><rect x="453" y="99" width="1" height="3" fill="#8a8a8a"/><rect x="453" y="93" width="1" height="3" fill="#8a8a8a"/><rect x="453" y="87" width="1" height="3" fill="#8a8a8a"/><rect x="453" y="81" width="1" height="3" fill="#8a8a8a"/><rect x="453" y="75" width="1" height="3" fill="#8a8a8a"/><rect x="453" y="69" width="1" height="3" fill="#8a8a8a"/><rect x="453" y="63" width="1" height="3" fill="#8a8a8a"/><rect x="453" y="57" width="1" height="3" fill="#8a8a8a"/><rect x="453" y="51" width="1" height="3" fill="#8a8a8a"/><rect x="453" y="46" width="1" height="2" fill="#8a8a8a"/><rect x="569" y="495" width="1" height="3" fill="#8a8a8a"/><rect x="569" y="489" width="1" height="3" fill="#8a8a8a"/><rect x="569" y="483" width="1" height="3" fill="#8a8a8a"/><rect x="569" y="477" width="1" height="3" fill="#8a8a8a"/><rect x="569" y="471" width="1" height="3" fill="#8a8a8a"/><rect x="569" y="465" width="1" height="3" fill="#8a8a8a"/><rect x="569" y="459" width="1" height="3" fill="#8a8a8a"/><rect x="569" y="453" width="1" height="3" fill="#8a8a8a"/><rect x="569" y="447" width="1" height="3" fill="#8a8a8a"/><rect x="569" y="441" width="1" height="3" fill="#8a8a8a"/><rect x="569" y="435" width="1" height="3" fill="#8a8a8a"/><rect x="569" y="429" width="1" height="3" fill="#8a8a8a"/><rect x="569" y="423" width="1" height="3" fill="#8a8a8a"/><rect x="569" y="417" width="1" height="3" fill="#8a8a8a"/><rect x="569" y="411" width="1" height="3" fill="#8a8a8a"/><rect x="569" y="405" width="1" height="3" fill="#8a8a8a"/><rect x="569" y="399" width="1" height="3" fill="#8a8a8a"/><rect x="569" y="393" width="1" height="3" fill="#8a8a8a"/><rect x="569" y="387" width="1" height="3" fill="#8a8a8a"/><rect x="569" y="381" width="1" height="3" fill="#8a8a8a"/><rect x="569" y="375" width="1" height="3" fill="#8a8a8a"/><rect x="569" y="369" width="1" height="3" fill="#8a8a8a"/><rect x="569" y="363" width="1" height="3" fill="#8a8a8a"/><rect x="569" y="357" width="1" height="3" fill="#8a8a8a"/><rect x="569" y="351" width="1" height="3" fill="#8a8a8a"/><rect x="569" y="345" width="1" height="3" fill="#8a8a8a"/><rect x="569" y="339" width="1" height="3" fill="#8a8a8a"/><rect x="569" y="333" width="1" height="3" fill="#8a8a8a"/><rect x="569" y="327" width="1" height="3" fill="#8a8a8a"/><rect x="569" y="321" width="1" height="3" fill="#8a8a8a"/><rect x="569" y="315" width="1" height="3" fill="#8a8a8a"/><rect x="569" y="309" width="1" height="3" fill="#8a8a8a"/><rect x="569" y="303" width="1" height="3" fill="#8a8a8a"/><rect x="569" y="297" width="1" height="3" fill="#8a8a8a"/><rect x="569" y="291" width="1" height="3" fill="#8a8a8a"/><rect x="569" y="285" width="1" height="3" fill="#8a8a8a"/><rect x="569" y="279" width="1" height="3" fill="#8a8a8a"/><rect x="569" y="273" width="1" height="3" fill="#8a8a8a"/><rect x="569" y="267" width="1" height="3" fill="#8a8a8a"/><rect x="569" y="261" width="1" height="3" fill="#8a8a8a"/><rect x="569" y="255" width="1" height="3" fill="#8a8a8a"/><rect x="569" y="249" width="1" height="3" fill="#8a8a8a"/><rect x="569" y="243" width="1" height="3" fill="#8a8a8a"/><rect x="569" y="237" width="1" height="3" fill="#8a8a8a"/><rect x="569" y="231" width="1" height="3" fill="#8a8a8a"/><rect x="569" y="225" width="1" height="3" fill="#8a8a8a"/><rect x="569" y="219" width="1" height="3" fill="#8a8a8a"/><rect x="569" y="213" width="1" height="3" fill="#8a8a8a"/><rect x="569" y="207" width="1" height="3" fill="#8a8a8a"/><rect x="569" y="201" width="1" height="3" fill="#8a8a8a"/><rect x="569" y="195" width="1" height="3" fill="#8a8a8a"/><rect x="569" y="189" width="1" height="3" fill="#8a8a8a"/><rect x="569" y="183" width="1" height="3" fill="#8a8a8a"/><rect x="569" y="177" width="1" height="3" fill="#8a8a8a"/><rect x="569" y="171" width="1" height="3" fill="#8a8a8a"/><rect x="569" y="165" width="1" height="3" fill="#8a8a8a"/><rect x="569" y="159" width="1" height="3" fill="#8a8a8a"/><rect x="569" y="153" width="1" height="3" fill="#8a8a8a"/><rect x="569" y="147" width="1" height="3" fill="#8a8a8a"/><rect x="569" y="141" width="1" height="3" fill="#8a8a8a"/><rect x="569" y="135" width="1" height="3" fill="#8a8a8a"/><rect x="569" y="129" width="1" height="3" fill="#8a8a8a"/><rect x="569" y="123" width="1" height="3" fill="#8a8a8a"/><rect x="569" y="117" width="1" height="3" fill="#8a8a8a"/><rect x="569" y="111" width="1" height="3" fill="#8a8a8a"/><rect x="569" y="105" width="1" height="3" fill="#8a8a8a"/><rect x="569" y="99" width="1" height="3" fill="#8a8a8a"/><rect x="569" y="93" width="1" height="3" fill="#8a8a8a"/><rect x="569" y="87" width="1" height="3" fill="#8a8a8a"/><rect x="569" y="81" width="1" height="3" fill="#8a8a8a"/><rect x="569" y="75" width="1" height="3" fill="#8a8a8a"/><rect x="569" y="69" width="1" height="3" fill="#8a8a8a"/><rect x="569" y="63" width="1" height="3" fill="#8a8a8a"/><rect x="569" y="57" width="1" height="3" fill="#8a8a8a"/><rect x="569" y="51" width="1" height="3" fill="#8a8a8a"/><rect x="569" y="46" width="1" height="2" fill="#8a8a8a"/><rect x="686" y="495" width="1" height="3" fill="#8a8a8a"/><rect x="686" y="489" width="1" height="3" fill="#8a8a8a"/><rect x="686" y="483" width="1" height="3" fill="#8a8a8a"/><rect x="686" y="477" width="1" height="3" fill="#8a8a8a"/><rect x="686" y="471" width="1" height="3" fill="#8a8a8a"/><rect x="686" y="465" width="1" height="3" fill="#8a8a8a"/><rect x="686" y="459" width="1" height="3" fill="#8a8a8a"/><rect x="686" y="453" width="1" height="3" fill="#8a8a8a"/><rect x="686" y="447" width="1" height="3" fill="#8a8a8a"/><rect x="686" y="441" width="1" height="3" fill="#8a8a8a"/><rect x="686" y="435" width="1" height="3" fill="#8a8a8a"/><rect x="686" y="429" width="1" height="3" fill="#8a8a8a"/><rect x="686" y="423" width="1" height="3" fill="#8a8a8a"/><rect x="686" y="417" width="1" height="3" fill="#8a8a8a"/><rect x="686" y="411" width="1" height="3" fill="#8a8a8a"/><rect x="686" y="405" width="1" height="3" fill="#8a8a8a"/><rect x="686" y="399" width="1" height="3" fill="#8a8a8a"/><rect x="686" y="393" width="1" height="3" fill="#8a8a8a"/><rect x="686" y="387" width="1" height="3" fill="#8a8a8a"/><rect x="686" y="381" width="1" height="3" fill="#8a8a8a"/><rect x="686" y="375" width="1" height="3" fill="#8a8a8a"/><rect x="686" y="369" width="1" height="3" fill="#8a8a8a"/><rect x="686" y="363" width="1" height="3" fill="#8a8a8a"/><rect x="686" y="357" width="1" height="3" fill="#8a8a8a"/><rect x="686" y="351" width="1" height="3" fill="#8a8a8a"/><rect x="686" y="345" width="1" height="3" fill="#8a8a8a"/><rect x="686" y="339" width="1" height="3" fill="#8a8a8a"/><rect x="686" y="333" width="1" height="3" fill="#8a8a8a"/><rect x="686" y="327" width="1" height="3" fill="#8a8a8a"/><rect x="686" y="321" width="1" height="3" fill="#8a8a8a"/><rect x="686" y="315" width="1" height="3" fill="#8a8a8a"/><rect x="686" y="309" width="1" height="3" fill="#8a8a8a"/><rect x="686" y="303" width="1" height="3" fill="#8a8a8a"/><rect x="686" y="297" width="1" height="3" fill="#8a8a8a"/><rect x="686" y="291" width="1" height="3" fill="#8a8a8a"/><rect x="686" y="285" width="1" height="3" fill="#8a8a8a"/><rect x="686" y="279" width="1" height="3" fill="#8a8a8a"/><rect x="686" y="273" width="1" height="3" fill="#8a8a8a"/><rect x="686" y="267" width="1" height="3" fill="#8a8a8a"/><rect x="686" y="261" width="1" height="3" fill="#8a8a8a"/><rect x="686" y="255" width="1" height="3" fill="#8a8a8a"/><rect x="686" y="249" width="1" height="3" fill="#8a8a8a"/><rect x="686" y="243" width="1" height="3" fill="#8a8a8a"/><rect x="686" y="237" width="1" height="3" fill="#8a8a8a"/><rect x="686" y="231" width="1" height="3" fill="#8a8a8a"/><rect x="686" y="225" width="1" height="3" fill="#8a8a8a"/><rect x="686" y="219" width="1" height="3" fill="#8a8a8a"/><rect x="686" y="213" width="1" height="3" fill="#8a8a8a"/><rect x="686" y="207" width="1" height="3" fill="#8a8a8a"/><rect x="686" y="201" width="1" height="3" fill="#8a8a8a"/><rect x="686" y="195" width="1" height="3" fill="#8a8a8a"/><rect x="686" y="189" width="1" height="3" fill="#8a8a8a"/><rect x="686" y="183" width="1" height="3" fill="#8a8a8a"/><rect x="686" y="177" width="1" height="3" fill="#8a8a8a"/><rect x="686" y="171" width="1" height="3" fill="#8a8a8a"/><rect x="686" y="165" width="1" height="3" fill="#8a8a8a"/><rect x="686" y="159" width="1" height="3" fill="#8a8a8a"/><rect x="686" y="153" width="1" height="3" fill="#8a8a8a"/><rect x="686" y="147" width="1" height="3" fill="#8a8a8a"/><rect x="686" y="141" width="1" height="3" fill="#8a8a8a"/><rect x="686" y="135" width="1" height="3" fill="#8a8a8a"/><rect x="686" y="129" width="1" height="3" fill="#8a8a8a"/><rect x="686" y="123" width="1" height="3" fill="#8a8a8a"/><rect x="686" y="117" width="1" height="3" fill="#8a8a8a"/><rect x="686" y="111" width="1" height="3" fill="#8a8a8a"/><rect x="686" y="105" width="1" height="3" fill="#8a8a8a"/><rect x="686" y="99" width="1" height="3" fill="#8a8a8a"/><rect x="686" y="93" width="1" height="3" fill="#8a8a8a"/><rect x="686" y="87" width="1" height="3" fill="#8a8a8a"/><rect x="686" y="81" width="1" height="3" fill="#8a8a8a"/><rect x="686" y="75" width="1" height="3" fill="#8a8a8a"/><rect x="686" y="69" width="1" height="3" fill="#8a8a8a"/><rect x="686" y="63" width="1" height="3" fill="#8a8a8a"/><rect x="686" y="57" width="1" height="3" fill="#8a8a8a"/><rect x="686" y="51" width="1" height="3" fill="#8a8a8a"/><rect x="686" y="46" width="1" height="2" fill="#8a8a8a"/>
</g>
<g shape-rendering="crispEdges"><path d="M104,497 L111,497 L118,497 L125,497 L132,497 L139,497 L146,497 L153,497 L160,497 L167,497 L174,497 L181,497 L188,497 L195,497 L202,497 L209,497 L216,497 L223,497 L230,497 L237,497 L244,497 L251,497 L258,497 L265,497 L272,497 L278,497 L285,497 L292,497 L299,497 L306,497 L313,497 L320,497 L327,497 L334,497 L341,497 L348,497 L355,497 L362,497 L369,497 L376,497 L383,497 L383,497 L383,67 L390,67 L390,67 L390,198 L397,198 L397,198 L397,277 L404,277 L404,277 L404,329 L411,329 L411,329 L411,372 L418,372 L418,372 L418,401 L425,401 L425,401 L425,429 L432,429 L432,429 L432,448 L439,448 L439,448 L439,460 L446,460 L446,460 L446,469 L453,469 L453,469 L453,475 L460,475 L460,475 L460,481 L467,481 L467,481 L467,486 L474,486 L474,486 L474,487 L481,487 L481,487 L481,489 L488,489 L488,489 L488,491 L495,491 L495,491 L495,492 L502,492 L502,492 L502,493 L509,493 L509,493 L509,495 L516,495 L523,495 L523,495 L523,496 L530,496 L537,496 L537,496 L537,497 L544,497 L551,497 L558,497 L565,497 L572,497 L579,497 L586,497 L593,497 L600,497 L607,497 L614,497 L621,497 L628,497 L634,497 L641,497 L648,497 L655,497 L662,497 L669,497 L676,497 L683,497 L690,497 L697,497 L704,497 L711,497 L718,497 L725,497 L732,497 L739,497 L746,497 L753,497 L760,497 L767,497 L774,497 L781,497 L788,497 L795,497 L802,497" fill="none" stroke="#000" stroke-width="2" stroke-linejoin="miter" stroke-linecap="square"/></g>
<g shape-rendering="crispEdges">
<rect x="103" y="44" width="700" height="2" fill="#000"/><rect x="103" y="496" width="700" height="2" fill="#000"/><rect x="103" y="44" width="2" height="454" fill="#000"/><rect x="801" y="44" width="2" height="454" fill="#000"/><rect x="103" y="483" width="2" height="15" fill="#000"/><rect x="103" y="44" width="2" height="17" fill="#000"/><rect x="126" y="490" width="2" height="8" fill="#000"/><rect x="126" y="44" width="2" height="9" fill="#000"/><rect x="150" y="490" width="2" height="8" fill="#000"/><rect x="150" y="44" width="2" height="9" fill="#000"/><rect x="173" y="490" width="2" height="8" fill="#000"/><rect x="173" y="44" width="2" height="9" fill="#000"/><rect x="196" y="490" width="2" height="8" fill="#000"/><rect x="196" y="44" width="2" height="9" fill="#000"/><rect x="219" y="483" width="2" height="15" fill="#000"/><rect x="219" y="44" width="2" height="17" fill="#000"/><rect x="243" y="490" width="2" height="8" fill="#000"/><rect x="243" y="44" width="2" height="9" fill="#000"/><rect x="266" y="490" width="2" height="8" fill="#000"/><rect x="266" y="44" width="2" height="9" fill="#000"/><rect x="289" y="490" width="2" height="8" fill="#000"/><rect x="289" y="44" width="2" height="9" fill="#000"/><rect x="312" y="490" width="2" height="8" fill="#000"/><rect x="312" y="44" width="2" height="9" fill="#000"/><rect x="336" y="483" width="2" height="15" fill="#000"/><rect x="336" y="44" width="2" height="17" fill="#000"/><rect x="359" y="490" width="2" height="8" fill="#000"/><rect x="359" y="44" width="2" height="9" fill="#000"/><rect x="382" y="490" width="2" height="8" fill="#000"/><rect x="382" y="44" width="2" height="9" fill="#000"/><rect x="405" y="490" width="2" height="8" fill="#000"/><rect x="405" y="44" width="2" height="9" fill="#000"/><rect x="429" y="490" width="2" height="8" fill="#000"/><rect x="429" y="44" width="2" height="9" fill="#000"/><rect x="452" y="483" width="2" height="15" fill="#000"/><rect x="452" y="44" width="2" height="17" fill="#000"/><rect x="475" y="490" width="2" height="8" fill="#000"/><rect x="475" y="44" width="2" height="9" fill="#000"/><rect x="499" y="490" width="2" height="8" fill="#000"/><rect x="499" y="44" width="2" height="9" fill="#000"/><rect x="522" y="490" width="2" height="8" fill="#000"/><rect x="522" y="44" width="2" height="9" fill="#000"/><rect x="545" y="490" width="2" height="8" fill="#000"/><rect x="545" y="44" width="2" height="9" fill="#000"/><rect x="568" y="483" width="2" height="15" fill="#000"/><rect x="568" y="44" width="2" height="17" fill="#000"/><rect x="592" y="490" width="2" height="8" fill="#000"/><rect x="592" y="44" width="2" height="9" fill="#000"/><rect x="615" y="490" width="2" height="8" fill="#000"/><rect x="615" y="44" width="2" height="9" fill="#000"/><rect x="638" y="490" width="2" height="8" fill="#000"/><rect x="638" y="44" width="2" height="9" fill="#000"/><rect x="661" y="490" width="2" height="8" fill="#000"/><rect x="661" y="44" width="2" height="9" fill="#000"/><rect x="685" y="483" width="2" height="15" fill="#000"/><rect x="685" y="44" width="2" height="17" fill="#000"/><rect x="708" y="490" width="2" height="8" fill="#000"/><rect x="708" y="44" width="2" height="9" fill="#000"/><rect x="731" y="490" width="2" height="8" fill="#000"/><rect x="731" y="44" width="2" height="9" fill="#000"/><rect x="754" y="490" width="2" height="8" fill="#000"/><rect x="754" y="44" width="2" height="9" fill="#000"/><rect x="778" y="490" width="2" height="8" fill="#000"/><rect x="778" y="44" width="2" height="9" fill="#000"/><rect x="801" y="483" width="2" height="15" fill="#000"/><rect x="801" y="44" width="2" height="17" fill="#000"/><rect x="103" y="496" width="22" height="2" fill="#000"/><rect x="782" y="496" width="21" height="2" fill="#000"/><rect x="103" y="477" width="12" height="2" fill="#000"/><rect x="792" y="477" width="11" height="2" fill="#000"/><rect x="103" y="458" width="12" height="2" fill="#000"/><rect x="792" y="458" width="11" height="2" fill="#000"/><rect x="103" y="439" width="12" height="2" fill="#000"/><rect x="792" y="439" width="11" height="2" fill="#000"/><rect x="103" y="420" width="22" height="2" fill="#000"/><rect x="782" y="420" width="21" height="2" fill="#000"/><rect x="103" y="401" width="12" height="2" fill="#000"/><rect x="792" y="401" width="11" height="2" fill="#000"/><rect x="103" y="382" width="12" height="2" fill="#000"/><rect x="792" y="382" width="11" height="2" fill="#000"/><rect x="103" y="363" width="12" height="2" fill="#000"/><rect x="792" y="363" width="11" height="2" fill="#000"/><rect x="103" y="344" width="22" height="2" fill="#000"/><rect x="782" y="344" width="21" height="2" fill="#000"/><rect x="103" y="325" width="12" height="2" fill="#000"/><rect x="792" y="325" width="11" height="2" fill="#000"/><rect x="103" y="306" width="12" height="2" fill="#000"/><rect x="792" y="306" width="11" height="2" fill="#000"/><rect x="103" y="287" width="12" height="2" fill="#000"/><rect x="792" y="287" width="11" height="2" fill="#000"/><rect x="103" y="268" width="22" height="2" fill="#000"/><rect x="782" y="268" width="21" height="2" fill="#000"/><rect x="103" y="249" width="12" height="2" fill="#000"/><rect x="792" y="249" width="11" height="2" fill="#000"/><rect x="103" y="230" width="12" height="2" fill="#000"/><rect x="792" y="230" width="11" height="2" fill="#000"/><rect x="103" y="211" width="12" height="2" fill="#000"/><rect x="792" y="211" width="11" height="2" fill="#000"/><rect x="103" y="192" width="22" height="2" fill="#000"/><rect x="782" y="192" width="21" height="2" fill="#000"/><rect x="103" y="174" width="12" height="2" fill="#000"/><rect x="792" y="174" width="11" height="2" fill="#000"/><rect x="103" y="155" width="12" height="2" fill="#000"/><rect x="792" y="155" width="11" height="2" fill="#000"/><rect x="103" y="136" width="12" height="2" fill="#000"/><rect x="792" y="136" width="11" height="2" fill="#000"/><rect x="103" y="117" width="22" height="2" fill="#000"/><rect x="782" y="117" width="21" height="2" fill="#000"/><rect x="103" y="98" width="12" height="2" fill="#000"/><rect x="792" y="98" width="11" height="2" fill="#000"/><rect x="103" y="79" width="12" height="2" fill="#000"/><rect x="792" y="79" width="11" height="2" fill="#000"/><rect x="103" y="60" width="12" height="2" fill="#000"/><rect x="792" y="60" width="11" height="2" fill="#000"/><rect x="610" y="90" width="168" height="2" fill="#000"/>
</g>
</svg>
<svg width="836" height="572" viewBox="0 0 836 572" style="position:absolute;left:0;top:0;will-change:transform">
<g class="tx">
<text x="0" y="0" font-size="44" fill="#c8c8c8" stroke="#c8c8c8" style="stroke-width:0.6px" transform="translate(548.6,42) scale(0.95,1)">E</text><text x="0" y="0" font-size="44" fill="#c8c8c8" stroke="#c8c8c8" style="stroke-width:0.6px" transform="translate(577.6,42) scale(0.95,1)">E</text><text x="0" y="0" font-size="44" fill="#c8c8c8" stroke="#c8c8c8" style="stroke-width:0.6px" transform="translate(606.1,42) scale(0.95,1)">E</text><text x="0" y="0" font-size="44" fill="#0000ff" stroke="#0000ff" style="stroke-width:0.6px" transform="translate(542.6,37) scale(0.95,1)">E</text><text x="0" y="0" font-size="44" fill="#0000ff" stroke="#0000ff" style="stroke-width:0.6px" transform="translate(571.6,37) scale(0.95,1)">E</text><text x="0" y="0" font-size="44" fill="#0000ff" stroke="#0000ff" style="stroke-width:0.6px" transform="translate(600.1,37) scale(0.95,1)">E</text><text x="0" y="0" font-size="17.75" fill="#0000ff" transform="translate(636.7,18) scale(0.958,1)">Extreme Energy Events</text><text x="0" y="0" font-size="17.75" fill="#0000ff" transform="translate(636.7,39) scale(0.958,1)">La Scienza nelle Scuole</text>
<text x="0" y="0" font-size="27.35" text-anchor="middle" fill="#000" stroke="#000" transform="translate(104,522) scale(0.958,1)" >0</text><text x="0" y="0" font-size="27.35" text-anchor="middle" fill="#000" stroke="#000" transform="translate(220,522) scale(0.958,1)" >50</text><text x="0" y="0" font-size="27.35" text-anchor="middle" fill="#000" stroke="#000" transform="translate(337,522) scale(0.958,1)" > 00</text><path d="M528 0L696 0L696 1409L575 1409C540 1230 420 1125 215 1117L215 989L528 989Z" fill="#000" stroke="#000" style="stroke-width:29.95px" transform="translate(337,522) scale(0.958,1) translate(-22.810,0) scale(0.01335,-0.01335)"/><text x="0" y="0" font-size="27.35" text-anchor="middle" fill="#000" stroke="#000" transform="translate(453,522) scale(0.958,1)" > 50</text><path d="M528 0L696 0L696 1409L575 1409C540 1230 420 1125 215 1117L215 989L528 989Z" fill="#000" stroke="#000" style="stroke-width:29.95px" transform="translate(453,522) scale(0.958,1) translate(-22.810,0) scale(0.01335,-0.01335)"/><text x="0" y="0" font-size="27.35" text-anchor="middle" fill="#000" stroke="#000" transform="translate(569,522) scale(0.958,1)" >200</text><text x="0" y="0" font-size="27.35" text-anchor="middle" fill="#000" stroke="#000" transform="translate(686,522) scale(0.958,1)" >250</text><text x="0" y="0" font-size="27.35" text-anchor="middle" fill="#000" stroke="#000" transform="translate(802,522) scale(0.958,1)" >300</text><text x="0" y="0" font-size="27.35" text-anchor="end" fill="#000" stroke="#000" transform="translate(101,507) scale(0.958,1)" >0</text><text x="0" y="0" font-size="27.35" text-anchor="end" fill="#000" stroke="#000" transform="translate(101,431) scale(0.958,1)" >2000</text><text x="0" y="0" font-size="27.35" text-anchor="end" fill="#000" stroke="#000" transform="translate(101,355) scale(0.958,1)" >4000</text><text x="0" y="0" font-size="27.35" text-anchor="end" fill="#000" stroke="#000" transform="translate(101,279) scale(0.958,1)" >6000</text><text x="0" y="0" font-size="27.35" text-anchor="end" fill="#000" stroke="#000" transform="translate(101,203) scale(0.958,1)" >8000</text><text x="0" y="0" font-size="27.35" text-anchor="end" fill="#000" stroke="#000" transform="translate(101,128) scale(0.958,1)" > 0000</text><path d="M528 0L696 0L696 1409L575 1409C540 1230 420 1125 215 1117L215 989L528 989Z" fill="#000" stroke="#000" style="stroke-width:29.95px" transform="translate(101,128) scale(0.958,1) translate(-76.017,0) scale(0.01335,-0.01335)"/><text x="0" y="0" font-size="27.14" text-anchor="start" fill="#000" stroke="#000" transform="translate(84,33.5) scale(0.958,1)" >VIAR-02-20 8-03-22-0005 </text><path d="M528 0L696 0L696 1409L575 1409C540 1230 420 1125 215 1117L215 989L528 989Z" fill="#000" stroke="#000" style="stroke-width:30.18px" transform="translate(84,33.5) scale(0.958,1) translate(141.710,0) scale(0.01325,-0.01325)"/><path d="M528 0L696 0L696 1409L575 1409C540 1230 420 1125 215 1117L215 989L528 989Z" fill="#000" stroke="#000" style="stroke-width:30.18px" transform="translate(84,33.5) scale(0.958,1) translate(319.672,0) scale(0.01325,-0.01325)"/><text x="0" y="0" font-size="30.48" text-anchor="end" fill="#000" stroke="#000" transform="translate(803.5,559) scale(0.958,1)" >Track length [cm]</text><text x="0" y="0" font-size="30.06" text-anchor="end" fill="#000" stroke="#000" transform="translate(30.5,43) rotate(-90) scale(0.958,1)" >Entries/bin</text><text x="0" y="0" font-size="20.88" text-anchor="middle" fill="#000" stroke="#000" transform="translate(693.5,86) scale(0.958,1)" >TrackLength</text><text x="0" y="0" font-size="20.88" text-anchor="start" fill="#000" stroke="#000" transform="translate(618,110) scale(0.958,1)" >Entries</text><text x="0" y="0" font-size="20.88" text-anchor="end" fill="#000" stroke="#000" transform="translate(769,110) scale(0.958,1)" >42468</text><text x="0" y="0" font-size="20.88" text-anchor="start" fill="#000" stroke="#000" transform="translate(618,133) scale(0.958,1)" >Mean</text><text x="0" y="0" font-size="20.88" text-anchor="end" fill="#000" stroke="#000" transform="translate(772.9,133) scale(0.958,1)" > 30. </text><path d="M528 0L696 0L696 1409L575 1409C540 1230 420 1125 215 1117L215 989L528 989Z" fill="#000" stroke="#000" style="stroke-width:39.24px" transform="translate(772.9,133) scale(0.958,1) translate(-52.242,0) scale(0.01019,-0.01019)"/><path d="M528 0L696 0L696 1409L575 1409C540 1230 420 1125 215 1117L215 989L528 989Z" fill="#000" stroke="#000" style="stroke-width:39.24px" transform="translate(772.9,133) scale(0.958,1) translate(-11.632,0) scale(0.01019,-0.01019)"/><text x="0" y="0" font-size="20.88" text-anchor="start" fill="#000" stroke="#000" transform="translate(618,156) scale(0.958,1)" >RMS</text><text x="0" y="0" font-size="20.88" text-anchor="end" fill="#000" stroke="#000" transform="translate(769.6,156) scale(0.958,1)" > 0.2</text><path d="M528 0L696 0L696 1409L575 1409C540 1230 420 1125 215 1117L215 989L528 989Z" fill="#000" stroke="#000" style="stroke-width:39.24px" transform="translate(769.6,156) scale(0.958,1) translate(-40.625,0) scale(0.01019,-0.01019)"/><text x="0" y="0" font-size="20.88" text-anchor="start" fill="#000" stroke="#000" transform="translate(618,179) scale(0.958,1)" >Underflow</text><text x="0" y="0" font-size="20.88" text-anchor="end" fill="#000" stroke="#000" transform="translate(769.4,179) scale(0.958,1)" >0</text><text x="0" y="0" font-size="20.88" text-anchor="start" fill="#000" stroke="#000" transform="translate(618,202) scale(0.958,1)" >Overflow</text><text x="0" y="0" font-size="20.88" text-anchor="end" fill="#000" stroke="#000" transform="translate(769.4,202) scale(0.958,1)" >0</text>
</g>
</svg>
</body></html>
